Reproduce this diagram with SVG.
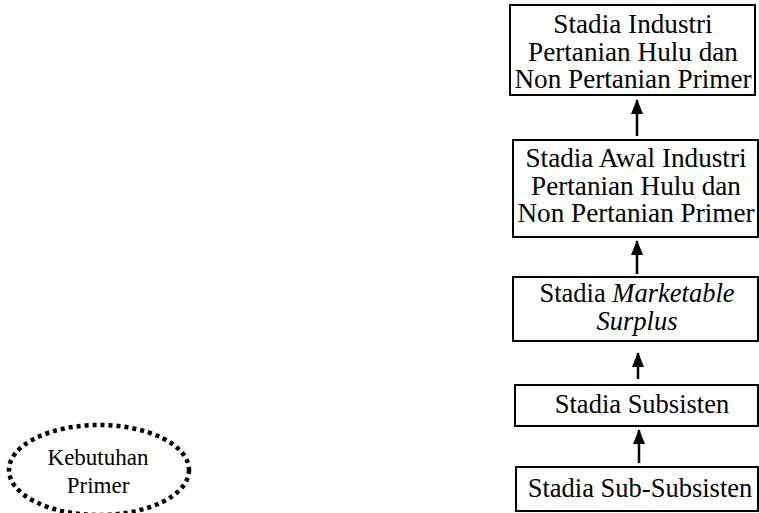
<svg xmlns="http://www.w3.org/2000/svg" width="759" height="513" viewBox="0 0 759 513">
<defs>
<style>
.box{fill:#fff;stroke:#000;stroke-width:2}
.t{font-family:'Liberation Serif','DejaVu Serif',serif;font-size:26.5px;fill:#000;text-anchor:middle}
.b{font-size:27.2px}
.s{font-family:'Liberation Serif','DejaVu Serif',serif;font-size:23px;fill:#000;text-anchor:middle}
.c{stroke:#000;stroke-width:2.5;fill:none}
</style>
<marker id="ah" markerWidth="15" markerHeight="12" refX="14" refY="6" orient="auto" markerUnits="userSpaceOnUse" viewBox="0 0 15 12">
<path d="M0,0 L15,6 L0,12 Z" fill="#000"/>
</marker>
</defs>
<rect width="759" height="513" fill="#fff"/>
<g id="n1">
<rect class="box" x="510" y="5" width="245" height="90"/>
<text class="t b" x="633" y="33">Stadia Industri</text>
<text class="t b" x="633" y="61">Pertanian Hulu dan</text>
<text class="t b" x="633" y="88">Non Pertanian Primer</text>
</g>
<g id="n2">
<rect class="box" x="513" y="140" width="245" height="97"/>
<text class="t b" x="636" y="167">Stadia Awal Industri</text>
<text class="t b" x="636" y="195">Pertanian Hulu dan</text>
<text class="t b" x="636" y="222">Non Pertanian Primer</text>
</g>
<g id="n3">
<rect class="box" x="513" y="277" width="245" height="64"/>
<text class="t" x="637" y="302">Stadia <tspan font-style="italic">Marketable</tspan></text>
<text class="t" x="637" y="330" font-style="italic">Surplus</text>
</g>
<g id="n4">
<rect class="box" x="515" y="385" width="243" height="41"/>
<text class="t" x="642" y="413">Stadia Subsisten</text>
</g>
<g id="n5">
<rect class="box" x="516" y="467" width="242" height="44"/>
<text class="t" x="640" y="497">Stadia Sub-Subsisten</text>
</g>
<g id="n6">
<ellipse cx="99" cy="470" rx="90" ry="45" fill="none" stroke="#000" stroke-width="4.5" stroke-dasharray="4 4"/>
<text class="s" x="98" y="465">Kebutuhan</text>
<text class="s" x="98" y="493">Primer</text>
</g>
<g id="connectors">
<line class="c" x1="637" y1="136" x2="637" y2="100" marker-end="url(#ah)"/>
<line class="c" x1="637" y1="274" x2="637" y2="241" marker-end="url(#ah)"/>
<line class="c" x1="638" y1="379" x2="638" y2="353" marker-end="url(#ah)"/>
<line class="c" x1="639" y1="463" x2="639" y2="430" marker-end="url(#ah)"/>
</g>
</svg>
